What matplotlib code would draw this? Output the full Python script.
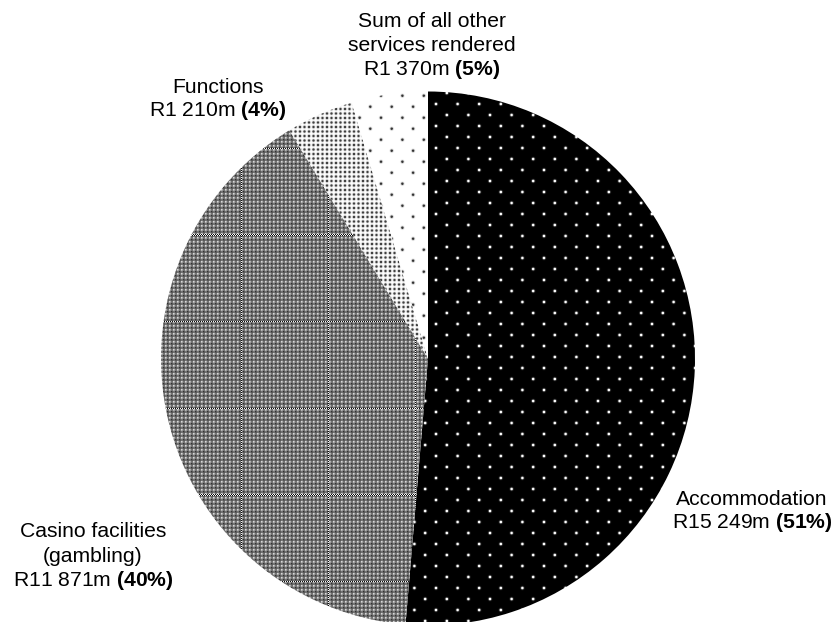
import numpy as np
import matplotlib
matplotlib.use("Agg")
import matplotlib.pyplot as plt

# Revenue by service (R million) and rounded shares
categories = ["Accommodation", "Casino facilities", "Functions", "Sum of all other services rendered"]
label_lines = [["Accommodation"],
               ["Casino facilities", "(gambling)"],
               ["Functions"],
               ["Sum of all other", "services rendered"]]
values_m = [15249, 11871, 1210, 1370]
shares_pct = [51, 40, 4, 5]

plt.rcParams["font.family"] = ["Liberation Sans", "DejaVu Sans"]
plt.rcParams["mathtext.fontset"] = "custom"
plt.rcParams["mathtext.rm"] = "Liberation Sans"
plt.rcParams["mathtext.bf"] = "Liberation Sans:bold"

W, H = 839, 622
fig = plt.figure(figsize=(W / 100, H / 100), dpi=100)
ax = fig.add_axes([0, 0, 1, 1])

cx, cy, radius = 428, 358.5, 267

wedges, _ = ax.pie(values_m, center=(cx, cy), radius=radius,
                   startangle=-90, counterclock=True,
                   colors=["white"] * 4,
                   wedgeprops=dict(linewidth=0, edgecolor="none"))

# ---- pixel textures for each slice ----
yy, xx = np.mgrid[0:H, 0:W] + 0.5


def stagger_dots(x0, y0, a, b, sigma):
    """Soft dots on a staggered lattice: rows every b, odd rows shifted a/2."""
    def d2(ox, oy):
        dx = (xx - ox + a / 2) % a - a / 2
        dy = (yy - oy + b) % (2 * b) - b
        return dx * dx + dy * dy
    dd = np.minimum(d2(x0, y0), d2(x0 + a / 2, y0 + b))
    return np.exp(-dd / (2 * sigma ** 2))


def square_dots(x0, y0, a, sigma):
    dx = (xx - x0 + a / 2) % a - a / 2
    dy = (yy - y0 + a / 2) % a - a / 2
    return np.exp(-(dx * dx + dy * dy) / (2 * sigma ** 2))


tex_accom = np.clip(1.5 * stagger_dots(436, 104, 21.6, 11.0, 0.9), 0, 1)
tex_other = 1 - 0.8 * np.clip(1.4 * stagger_dots(381, 95.7, 21.4, 11.0, 0.9), 0, 1)
tex_func = 1 - 0.75 * np.clip(1.4 * square_dots(300, 100, 4.5, 0.85), 0, 1)

# fine grey weave for the casino slice
tile = np.array([[0.35, 0.45, 0.45, 0.35],
                 [0.45, 0.85, 0.70, 0.45],
                 [0.45, 0.70, 0.60, 0.45],
                 [0.35, 0.45, 0.45, 0.20]])
tex_casino = np.tile(tile, (H // 4 + 1, W // 4 + 1))[:H, :W]
seam_x = (np.abs(((xx - 241.7 + 43.35) % 86.7) - 43.35) < 0.6)
seam_y = (np.abs(((yy - 235.0 + 43.35) % 86.7) - 43.35) < 0.6)
tex_casino = np.where(seam_x | seam_y, 0.5 + 0.45 * np.cos(np.pi * (np.floor(xx) + np.floor(yy))),
                      tex_casino)
tex_casino = np.clip(tex_casino, 0, 1)

for wedge, tex in zip(wedges, [tex_accom, tex_casino, tex_func, tex_other]):
    im = ax.imshow(tex, cmap="gray", vmin=0, vmax=1, extent=(0, W, H, 0),
                   origin="upper", interpolation="nearest", zorder=2)
    im.set_clip_path(wedge)

ax.set_xlim(0, W)
ax.set_ylim(H, 0)
ax.set_aspect("equal")
ax.axis("off")

# ---- labels: (centre x, first baseline y, line step) ----
label_pos = [(752, 505, 23.5),
             (93, 537, 24.5),
             (218, 92.7, 23.5),
             (432, 26.7, 24.0)]

for lines, v, pct, (lx, ly, step) in zip(label_lines, values_m, shares_pct, label_pos):
    amount = f"{v:,}".replace(",", " ")
    texts = list(lines) + [f"R{amount}m " + r"$\mathbf{(" + str(pct) + r"\%)}$"]
    for i, t in enumerate(texts):
        ax.text(lx, ly + i * step, t, ha="center", va="baseline",
                fontsize=15.2, color="black", zorder=5)

fig.savefig("out.png", dpi=100)
